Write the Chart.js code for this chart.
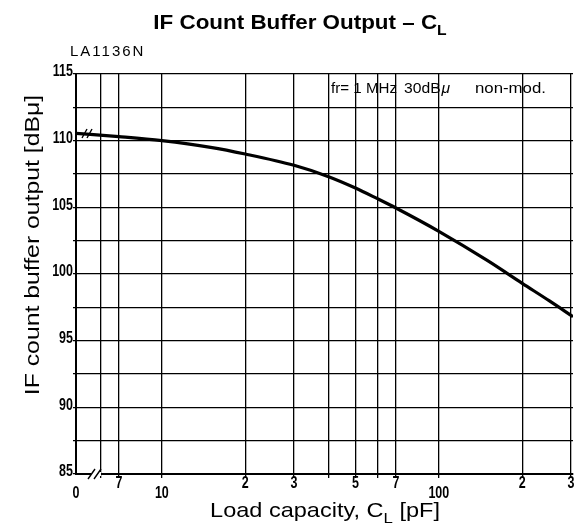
<!DOCTYPE html>
<html>
<head>
<meta charset="utf-8">
<script src="https://cdn.jsdelivr.net/npm/chart.js@4.4.1/dist/chart.umd.min.js"></script>
<style>
  html, body { margin: 0; padding: 0; background: #fff; }
</style>
</head>
<body>
<canvas id="chart" width="576" height="526"></canvas>
<script>
// IF count buffer output vs. load capacitance (LA1136N)
const loadPF = [4.9, 7, 10, 15, 20, 30, 40, 50, 60, 70, 100, 150, 200, 250, 305];
const outputDB = [110.55, 110.3, 110.0, 109.5, 109.0, 108.15, 107.3, 106.45, 105.65, 104.95, 103.2, 101.0, 99.3, 98.0, 96.8];

// log grid lines and the labels printed under them ("0" marks the axis break)
const xGridVals = [6, 7, 10, 20, 30, 40, 50, 60, 70, 100, 200, 300];
const xTickVals = [4.9, 7, 10, 20, 30, 50, 70, 100, 200, 300];
const xTickText = ['0', '7', '10', '2', '3', '5', '7', '100', '2', '3'];
const yTickVals = [85, 90, 95, 100, 105, 110, 115];
const yMin = 85, yMax = 115, yStep = 2.5;

const SANS = '"Liberation Sans", Arial, sans-serif';

// horizontally stretched text
function stretchText(ctx, text, x, y, sx, align) {
  ctx.save();
  ctx.translate(x, y);
  ctx.scale(sx, 1);
  ctx.textAlign = align;
  ctx.fillText(text, 0, 0);
  ctx.restore();
}

// text with a subscript piece: parts = [[text, isSub], ...]
function drawRich(ctx, parts, x, y, size, weight, sx) {
  const fonts = parts.map(([, sub]) => `${weight} ${sub ? Math.round(size * 0.72) : size}px ${SANS}`);
  const widths = parts.map(([t], i) => { ctx.font = fonts[i]; return ctx.measureText(t).width * sx; });
  let cx = x - widths.reduce((a, b) => a + b, 0) / 2;
  ctx.textBaseline = 'alphabetic';
  parts.forEach(([t, sub], i) => {
    ctx.font = fonts[i];
    stretchText(ctx, t, cx, sub ? y + size * 0.28 : y, sx, 'left');
    cx += widths[i];
  });
}

const decorations = {
  id: 'decorations',
  afterDraw(chart) {
    const { ctx, chartArea: a, scales: { x, y } } = chart;
    ctx.save();
    ctx.fillStyle = '#000';
    ctx.strokeStyle = '#000';

    // title
    drawRich(ctx, [['IF Count Buffer Output – C', false], ['L', true]], 300, 29, 20, 'bold', 1.12);

    // device name
    ctx.font = `15px ${SANS}`;
    ctx.letterSpacing = '2px';
    ctx.textAlign = 'left';
    ctx.fillText('LA1136N', 70, 56);
    ctx.letterSpacing = '0px';

    // measuring conditions
    ctx.font = `14px ${SANS}`;
    stretchText(ctx, 'fr= 1 MHz', 331, 93, 1.08, 'left');
    stretchText(ctx, '30dB', 404, 93, 1.12, 'left');
    const wdb = ctx.measureText('30dB').width * 1.12;
    ctx.font = `italic 14px ${SANS}`;
    stretchText(ctx, 'μ', 404 + wdb + 1, 93, 1.12, 'left');
    ctx.font = `14px ${SANS}`;
    stretchText(ctx, 'non-mod.', 475, 93, 1.2, 'left');

    // tick labels: heavy narrow digits
    ctx.font = `bold 16px ${SANS}`;
    ctx.textBaseline = 'middle';
    yTickVals.forEach(v => stretchText(ctx, String(v), a.left - 3, y.getPixelForValue(v) - 2, 0.78, 'right'));
    ctx.textBaseline = 'alphabetic';
    xTickVals.forEach((v, i) => {
      const t = xTickText[i];
      const low = t === '0' || t.length > 1; // zero and decade labels sit lower
      stretchText(ctx, t, x.getPixelForValue(v), a.bottom + (low ? 24 : 14), 0.78, 'center');
    });

    // axis titles
    drawRich(ctx, [['Load capacity, C', false], ['L', true], [' [pF]', false]], 325, 517, 21, 'normal', 1.12);
    ctx.save();
    ctx.translate(39, 245);
    ctx.rotate(-Math.PI / 2);
    ctx.font = `21px ${SANS}`;
    stretchText(ctx, 'IF count buffer output [dBμ]', 0, 0, 1.18, 'center');
    ctx.restore();

    // axis break marks
    const bx = a.left + 21, by = a.bottom;
    ctx.fillStyle = '#fff';
    ctx.fillRect(bx - 6, by - 2, 10, 4);
    ctx.lineWidth = 1.4;
    ctx.beginPath();
    ctx.moveTo(bx - 9, by + 5); ctx.lineTo(bx - 2, by - 5);
    ctx.moveTo(bx - 3, by + 5); ctx.lineTo(bx + 4, by - 5);
    ctx.stroke();
    const ky = y.getPixelForValue(110.5);
    ctx.beginPath();
    ctx.moveTo(a.left + 6, ky + 4); ctx.lineTo(a.left + 11, ky - 5);
    ctx.moveTo(a.left + 11, ky + 4); ctx.lineTo(a.left + 16, ky - 5);
    ctx.stroke();
    ctx.restore();
  }
};

new Chart(document.getElementById('chart'), {
  type: 'line',
  data: {
    datasets: [{
      data: loadPF.map((v, i) => ({ x: v, y: outputDB[i] })),
      borderColor: '#000',
      borderWidth: 3.2,
      pointRadius: 0,
      cubicInterpolationMode: 'monotone',
      fill: false
    }]
  },
  options: {
    responsive: false,
    animation: false,
    devicePixelRatio: 1,
    layout: { padding: { top: 74, right: 3, bottom: 0, left: 0 } },
    plugins: { legend: { display: false }, tooltip: { enabled: false } },
    scales: {
      x: {
        type: 'logarithmic',
        min: 4.9,
        max: 305,
        afterBuildTicks: s => { s.ticks = xGridVals.map(v => ({ value: v })); },
        afterFit: s => { s.height = 52; },
        ticks: { display: false },
        grid: { color: '#000', lineWidth: 1.3, tickLength: 4 },
        border: { color: '#000', width: 2 }
      },
      y: {
        min: yMin,
        max: yMax,
        afterFit: s => { s.width = 76; },
        ticks: { stepSize: yStep, display: false },
        grid: { color: '#000', lineWidth: 1.3, tickLength: 3 },
        border: { color: '#000', width: 2 }
      }
    }
  },
  plugins: [decorations]
});
</script>
</body>
</html>
